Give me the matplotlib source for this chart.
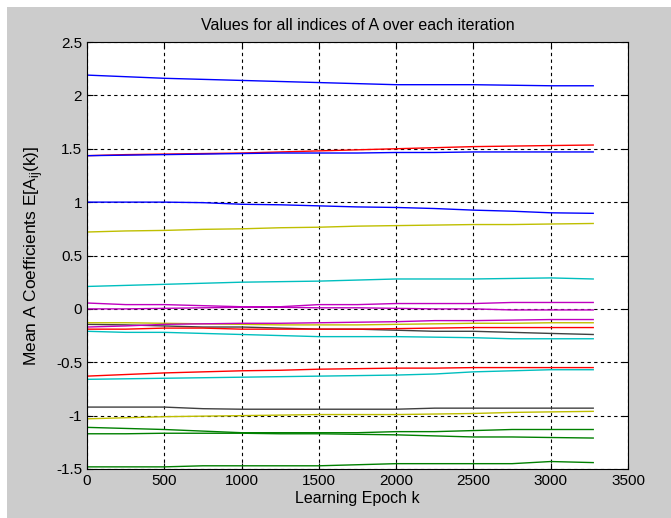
import numpy as np
import matplotlib
matplotlib.use("Agg")
import matplotlib.pyplot as plt
from matplotlib.patches import Rectangle

plt.rcParams['font.family'] = ['Liberation Sans', 'DejaVu Sans']
plt.rcParams['mathtext.fontset'] = 'custom'
plt.rcParams['mathtext.rm'] = 'Liberation Sans'

#----Donnees

epochs = [0, 250, 500, 750, 1000, 1250, 1500, 1750, 2000, 2250, 2500, 2750, 3000, 3275]

blue1 = [2.19, 2.175, 2.16, 2.15, 2.14, 2.13, 2.12, 2.11, 2.10, 2.10, 2.10, 2.095, 2.09, 2.09]
green1 = [-1.11, -1.12, -1.13, -1.145, -1.16, -1.16, -1.16, -1.16, -1.15, -1.15, -1.14, -1.13, -1.13, -1.13]
red1 = [1.435, 1.445, 1.45, 1.455, 1.46, 1.47, 1.48, 1.49, 1.50, 1.51, 1.52, 1.525, 1.53, 1.535]
cyan1 = [0.21, 0.22, 0.23, 0.24, 0.25, 0.255, 0.26, 0.27, 0.28, 0.28, 0.28, 0.285, 0.29, 0.28]
magenta1 = [0.055, 0.04, 0.04, 0.03, 0.02, 0.02, 0.04, 0.04, 0.05, 0.05, 0.05, 0.06, 0.06, 0.06]
yellow1 = [0.72, 0.73, 0.735, 0.745, 0.75, 0.76, 0.765, 0.775, 0.78, 0.785, 0.79, 0.79, 0.795, 0.80]
gray1 = [-0.145, -0.15, -0.16, -0.17, -0.17, -0.18, -0.19, -0.19, -0.20, -0.21, -0.21, -0.22, -0.23, -0.24]

blue2 = [1.435, 1.44, 1.445, 1.45, 1.455, 1.46, 1.46, 1.46, 1.465, 1.465, 1.47, 1.47, 1.47, 1.47]
green2 = [-1.17, -1.17, -1.165, -1.165, -1.165, -1.17, -1.17, -1.175, -1.18, -1.19, -1.20, -1.20, -1.205, -1.21]
red2 = [-0.19, -0.19, -0.18, -0.18, -0.19, -0.19, -0.19, -0.19, -0.185, -0.18, -0.175, -0.175, -0.175, -0.175]
cyan2 = [-0.21, -0.22, -0.22, -0.23, -0.24, -0.25, -0.26, -0.26, -0.26, -0.265, -0.27, -0.28, -0.28, -0.28]
magenta2 = [0.0, 0.0, 0.005, 0.01, 0.015, 0.015, 0.01, 0.01, 0.005, 0.0, 0.0, -0.01, -0.01, -0.01]
yellow2 = [-0.13, -0.13, -0.135, -0.14, -0.145, -0.15, -0.15, -0.15, -0.145, -0.14, -0.135, -0.135, -0.13, -0.13]
gray2 = [-0.92, -0.92, -0.92, -0.935, -0.94, -0.94, -0.94, -0.94, -0.94, -0.93, -0.93, -0.93, -0.93, -0.93]

blue3 = [1.0, 1.0, 1.0, 0.995, 0.98, 0.975, 0.965, 0.955, 0.95, 0.94, 0.925, 0.915, 0.90, 0.895]
green3 = [-1.48, -1.48, -1.48, -1.47, -1.47, -1.47, -1.47, -1.46, -1.45, -1.45, -1.45, -1.45, -1.43, -1.44]
red3 = [-0.63, -0.615, -0.60, -0.59, -0.58, -0.575, -0.565, -0.56, -0.555, -0.555, -0.55, -0.55, -0.55, -0.55]
cyan3 = [-0.66, -0.655, -0.65, -0.645, -0.64, -0.635, -0.63, -0.625, -0.62, -0.61, -0.59, -0.58, -0.57, -0.57]
magenta3 = [-0.17, -0.16, -0.145, -0.14, -0.135, -0.135, -0.13, -0.125, -0.12, -0.11, -0.11, -0.105, -0.10, -0.10]
yellow3 = [-1.03, -1.02, -1.01, -1.005, -1.0, -0.995, -0.99, -0.99, -0.99, -0.985, -0.98, -0.97, -0.965, -0.96]

series = [blue1, green1, red1, cyan1, magenta1, yellow1, gray1,
          blue2, green2, red2, cyan2, magenta2, yellow2, gray2,
          blue3, green3, red3, cyan3, magenta3, yellow3]

# ordre de couleurs MATLAB (ancien)
couleurs = [(0, 0, 1), (0, 0.5, 0), (1, 0, 0), (0, 0.75, 0.75),
            (0.75, 0, 0.75), (0.75, 0.75, 0), (0.25, 0.25, 0.25)]

#----Figure

fig = plt.figure(figsize=(6.71, 5.18), dpi=100, facecolor='#cccccc')
ax = fig.add_axes([87/671, 49/518, 541/671, 427/518])

for i, s in enumerate(series):
    ax.plot(epochs, s, color=couleurs[i % 7], linewidth=1.0)

ax.set_xlim(0, 3500)
ax.set_ylim(-1.5, 2.5)
ax.set_xticks(np.arange(0, 3501, 500))
ax.set_yticks(np.arange(-1.5, 2.51, 0.5))
ax.set_yticklabels(['-1.5', '-1', '-0.5', '0', '0.5', '1', '1.5', '2', '2.5'])

ax.grid(True, color='black', linestyle=(0, (3, 3)), linewidth=0.8)
ax.tick_params(direction='in', top=True, right=True, labelsize=11, length=4)
for sp in ax.spines.values():
    sp.set_linewidth(0.8)

ax.set_title('Values for all indices of A over each iteration', fontsize=11.5, pad=9)
ax.set_xlabel('Learning Epoch k', fontsize=11.5, labelpad=2)
ax.set_ylabel(r'Mean A Coefficients E[A$_\mathrm{ij}$(k)]', fontsize=12.5, labelpad=8)

# bandes blanches en haut et a gauche
fig.patches.append(Rectangle((0, 1 - 7/518), 1, 7/518, transform=fig.transFigure,
                             facecolor='white', edgecolor='none'))
fig.patches.append(Rectangle((0, 0), 7/671, 1, transform=fig.transFigure,
                             facecolor='white', edgecolor='none'))

fig.savefig('out.png', dpi=100, facecolor=fig.get_facecolor())
